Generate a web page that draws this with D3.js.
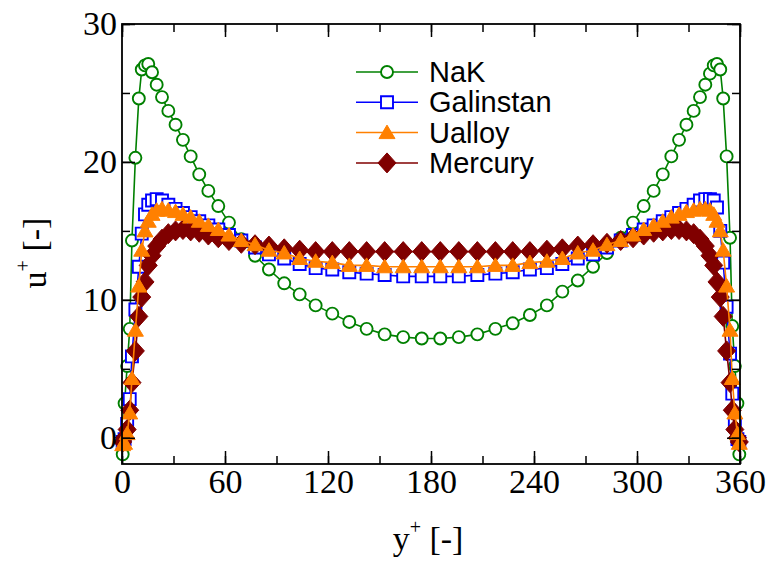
<!DOCTYPE html>
<html>
<head>
<meta charset="utf-8">
<script src="https://cdn.jsdelivr.net/npm/d3@7"></script>
<style>
body { margin: 0; background: #fff; }
</style>
</head>
<body>
<svg id="chart" width="771" height="567"></svg>
<script>
// wall-normal positions (shared grid), y+
var yPlus = [0.4, 1.5, 3.0, 4.5, 5.8, 7.8, 9.8, 11.5, 13.4, 15.3, 17.5, 20.2, 23.3, 27.0, 31.2, 35.5, 40.0, 45.0, 50.3, 56.1,
    62.3, 69.5, 77.5, 85.6, 94.5, 103.5, 112.8, 122.5, 132.4, 142.5, 153.0, 163.8, 174.6,
    185.4, 196.2, 207.0, 217.5, 227.6, 237.6, 247.5, 256.5, 265.5, 274.4, 282.5, 290.5, 297.7,
    303.9, 309.7, 315.0, 320.0, 324.5, 328.8, 333.0, 336.7, 339.8, 342.5, 344.7, 346.6, 348.5, 350.2, 352.2, 354.2, 355.5, 357.0, 358.5, 359.6]

var uNaK = [-1.2, 2.5, 5.2, 7.9, 14.3, 20.3, 24.6, 26.7, 27.0, 27.1, 26.5, 25.6, 24.7, 23.7, 22.7, 21.6, 20.4, 19.1, 17.9, 16.8,
    15.6, 14.4, 13.2, 12.2, 11.2, 10.4, 9.6, 9.0, 8.4, 7.9, 7.5, 7.3, 7.2,
    7.2, 7.3, 7.5, 7.9, 8.3, 8.9, 9.6, 10.6, 11.4, 12.4, 13.4, 14.5, 15.6,
    16.8, 17.9, 19.1, 20.4, 21.6, 22.7, 23.7, 24.7, 25.6, 26.4, 27.0, 27.1, 26.7, 24.6, 20.4, 14.5, 8.1, 5.2, 2.5, -1.2]

var uGalinstan = [-0.3, -0.1, 1.0, 2.8, 5.9, 9.3, 12.4, 14.8, 16.2, 16.9, 17.2, 17.3, 17.2, 16.9, 16.6, 16.3, 16.0, 15.7, 15.4, 15.1,
    14.7, 14.3, 13.8, 13.3, 13.0, 12.6, 12.3, 12.2, 12.0, 11.9, 11.8, 11.7, 11.7,
    11.7, 11.7, 11.8, 11.9, 12.0, 12.2, 12.3, 12.6, 13.0, 13.3, 13.8, 14.3, 14.7,
    15.1, 15.4, 15.7, 16.0, 16.3, 16.6, 16.9, 17.2, 17.3, 17.3, 17.2, 16.7, 15.0, 12.7, 9.5, 6.1, 3.2, 1.0, -0.1, -0.3]

var uUalloy = [-0.5, -0.4, 0.3, 1.8, 4.3, 7.8, 11.0, 13.6, 15.0, 15.7, 16.2, 16.5, 16.6, 16.5, 16.4, 16.2, 16.0, 15.7, 15.4, 15.1,
    14.7, 14.3, 14.0, 13.6, 13.4, 13.0, 12.8, 12.7, 12.5, 12.5, 12.4, 12.4, 12.4,
    12.4, 12.4, 12.4, 12.5, 12.5, 12.7, 12.8, 13.0, 13.4, 13.6, 14.0, 14.3, 14.7,
    15.1, 15.4, 15.7, 16.0, 16.2, 16.4, 16.5, 16.6, 16.6, 16.5, 16.2, 15.7, 15.0, 13.6, 11.0, 7.8, 4.3, 1.8, 0.3, -0.4]

var uMercury = [-0.3, 0.0, 0.6, 2.0, 4.0, 6.3, 8.8, 10.2, 11.3, 12.5, 13.2, 13.9, 14.4, 14.8, 15.0, 15.1, 15.0, 14.9, 14.7, 14.5,
    14.3, 14.1, 14.0, 13.9, 13.7, 13.6, 13.5, 13.5, 13.5, 13.5, 13.5, 13.5, 13.5,
    13.5, 13.5, 13.5, 13.5, 13.5, 13.5, 13.6, 13.7, 13.9, 14.0, 14.1, 14.3, 14.5,
    14.7, 14.9, 15.0, 15.1, 15.1, 15.0, 14.8, 14.4, 13.9, 13.2, 12.5, 11.3, 10.2, 8.8, 6.3, 4.0, 2.0, 0.6, 0.0, -0.3]

var xMajorTicks = [0, 60, 120, 180, 240, 300, 360]
var yMajorTicks = [0, 10, 20, 30]

var series = [
  {name: "NaK", values: uNaK, color: "#008000", shape: "circle"},
  {name: "Galinstan", values: uGalinstan, color: "#0000ff", shape: "square"},
  {name: "Mercury", values: uMercury, color: "#800000", shape: "diamond"},
  {name: "Ualloy", values: uUalloy, color: "#ff8000", shape: "triangle"}
]
var legendOrder = ["NaK", "Galinstan", "Ualloy", "Mercury"]

var plotLeft = 122, plotRight = 740, plotTop = 24, plotBottom = 464
var svg = d3.select("#chart")
var serif = "'Liberation Serif', 'Times New Roman', serif"

var x = d3.scaleLinear().domain([0, 360]).range([plotLeft, plotRight])
var y = d3.scaleLinear().domain([-1.9, 30]).range([plotBottom, plotTop])

function markerPath(shape) {
  if (shape == "circle") return d3.symbol().type(d3.symbolCircle).size(Math.PI * 6 * 6)()
  if (shape == "square") return "M-6,-6H6V6H-6Z"
  if (shape == "triangle") return "M0,-7.5L8,6H-8Z"
  return "M0,-10L9,0L0,10L-9,0Z"
}
function markerFill(s) {
  return (s.shape == "circle" || s.shape == "square") ? "white" : s.color
}
function markerStroke(s) {
  return (s.shape == "circle" || s.shape == "square") ? 1.9 : 1
}

var line = d3.line()
    .x(function(d) { return x(d[0]) })
    .y(function(d) { return y(d[1]) })

var plot = svg.append("g")

series.forEach(function(s) {
  var pts = yPlus.map(function(v, i) { return [v, s.values[i]] })
  var g = plot.append("g")
  g.append("path")
      .attr("d", line(pts))
      .attr("fill", "none")
      .attr("stroke", s.color)
      .attr("stroke-width", 1.6)
  g.selectAll("path.m")
      .data(pts)
      .enter()
      .append("path")
      .attr("class", "m")
      .attr("transform", function(d) { return "translate(" + x(d[0]) + "," + y(d[1]) + ")" })
      .attr("d", markerPath(s.shape))
      .attr("fill", markerFill(s))
      .attr("stroke", s.color)
      .attr("stroke-width", markerStroke(s))
})

// axes with inward ticks
function styleAxis(g) {
  g.select(".domain").remove()
  g.selectAll("line").attr("stroke", "black").attr("stroke-width", 1.5)
}
var xMinor = d3.range(0, 361, 30)
var yMinor = d3.range(0, 31, 5)

svg.append("g").attr("transform", "translate(0," + plotBottom + ")")
    .call(d3.axisBottom(x).tickValues(xMinor).tickSize(-8).tickFormat("")).call(styleAxis)
svg.append("g").attr("transform", "translate(0," + plotBottom + ")")
    .call(d3.axisBottom(x).tickValues(xMajorTicks).tickSize(-13).tickPadding(8).tickFormat(d3.format("d")))
    .call(styleAxis)
    .selectAll("text").attr("font-family", serif).attr("font-size", 34).attr("fill", "black")
    .attr("dy", "0.71em").attr("y", 5)
svg.append("g").attr("transform", "translate(0," + plotTop + ")")
    .call(d3.axisTop(x).tickValues(xMinor).tickSize(-8).tickFormat("")).call(styleAxis)
svg.append("g").attr("transform", "translate(0," + plotTop + ")")
    .call(d3.axisTop(x).tickValues(xMajorTicks).tickSize(-13).tickFormat("")).call(styleAxis)

svg.append("g").attr("transform", "translate(" + plotLeft + ",0)")
    .call(d3.axisLeft(y).tickValues(yMinor).tickSize(-8).tickFormat("")).call(styleAxis)
svg.append("g").attr("transform", "translate(" + plotLeft + ",0)")
    .call(d3.axisLeft(y).tickValues(yMajorTicks).tickSize(-13).tickPadding(5).tickFormat(d3.format("d")))
    .call(styleAxis)
    .selectAll("text").attr("font-family", serif).attr("font-size", 34).attr("fill", "black")
svg.append("g").attr("transform", "translate(" + plotRight + ",0)")
    .call(d3.axisRight(y).tickValues(yMinor).tickSize(-8).tickFormat("")).call(styleAxis)
svg.append("g").attr("transform", "translate(" + plotRight + ",0)")
    .call(d3.axisRight(y).tickValues(yMajorTicks).tickSize(-13).tickFormat("")).call(styleAxis)

svg.append("rect")
    .attr("x", plotLeft).attr("y", plotTop)
    .attr("width", plotRight - plotLeft).attr("height", plotBottom - plotTop)
    .attr("fill", "none").attr("stroke", "black").attr("stroke-width", 1.8)

// axis titles
var xt = svg.append("text")
    .attr("x", 428).attr("y", 550)
    .attr("text-anchor", "middle")
    .attr("font-family", serif).attr("font-size", 34)
xt.append("tspan").text("y")
xt.append("tspan").attr("font-size", 20).attr("dy", -16).text("+")
xt.append("tspan").attr("dy", 16).text(" [-]")

var yt = svg.append("text")
    .attr("transform", "translate(46,253) rotate(-90)")
    .attr("text-anchor", "middle")
    .attr("font-family", serif).attr("font-size", 34)
yt.append("tspan").text("u")
yt.append("tspan").attr("font-size", 20).attr("dy", -16).text("+")
yt.append("tspan").attr("dy", 16).text(" [-]")

// legend
var legend = svg.append("g").attr("transform", "translate(356,72)")
legendOrder.forEach(function(name, i) {
  var s = series.filter(function(d) { return d.name == name })[0]
  var row = legend.append("g").attr("transform", "translate(0," + (i * 30.3) + ")")
  row.append("line").attr("x1", 0).attr("x2", 62).attr("y1", 0).attr("y2", 0)
      .attr("stroke", s.color).attr("stroke-width", 1.5)
  row.append("path").attr("transform", "translate(31,0)")
      .attr("d", markerPath(s.shape))
      .attr("fill", markerFill(s)).attr("stroke", s.color).attr("stroke-width", markerStroke(s))
  row.append("text").attr("x", 73).attr("y", 10)
      .attr("font-family", "'Liberation Sans', Arial, sans-serif")
      .attr("font-size", 29).text(name)
})
</script>
</body>
</html>
